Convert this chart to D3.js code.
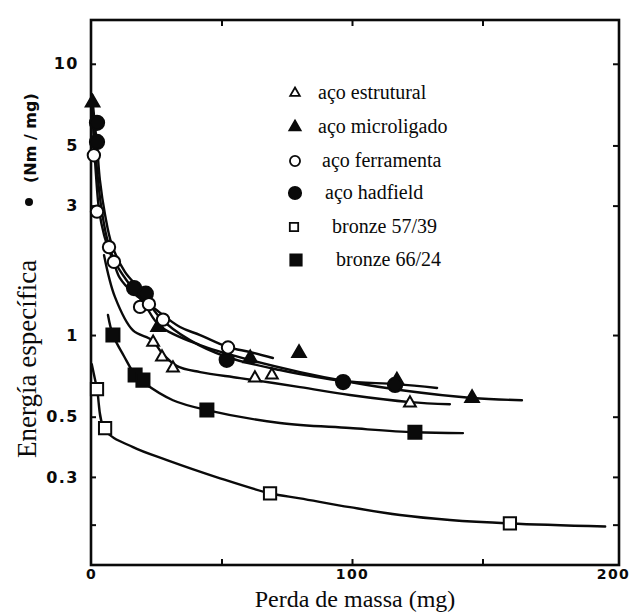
<!DOCTYPE html>
<html><head><meta charset="utf-8">
<script src="https://cdn.jsdelivr.net/npm/d3@7"></script>
<style>body{margin:0;background:#fff}</style>
</head><body>
<svg id="c" width="638" height="614"></svg>
<script>
// ---------- data ----------
const seriesNames = ["aço estrutural", "aço microligado", "aço ferramenta", "aço hadfield", "bronze 57/39", "bronze 66/24"];

// measured points [perda de massa (mg), energia específica (Nm/mg)]
const estruturalPts = [[23.8, 0.94], [27.2, 0.83], [31.4, 0.755], [62.8, 0.694], [69.3, 0.712], [122.2, 0.561]];
const microligadoPts = [[0.6, 7.2], [25.7, 1.07], [61, 0.82], [79.7, 0.858], [117.2, 0.68], [146, 0.586]];
const ferramentaPts = [[1.1, 4.6], [2.3, 2.85], [6.9, 2.11], [8.8, 1.86], [18.8, 1.27], [22.2, 1.30], [27.6, 1.14], [52.5, 0.90]];
const hadfieldPts = [[2.3, 6.06], [2.3, 5.15], [16.5, 1.49], [21, 1.42], [52, 0.81], [96.6, 0.671], [116.5, 0.655]];
const bronze5739Pts = [[2.3, 0.632], [5.4, 0.454], [68.6, 0.261], [160.5, 0.202]];
const bronze6624Pts = [[8.4, 1.0], [16.9, 0.712], [19.9, 0.682], [44.4, 0.529], [124.1, 0.438]];

// fitted curves drawn in the figure
const estruturalFit = [[5.0, 1.97], [9.2, 1.38], [16.1, 1.04], [23.4, 0.958], [27.2, 0.858], [33, 0.768], [41.8, 0.73], [57.1, 0.694], [80.1, 0.643], [99.2, 0.601], [122.2, 0.566], [137.5, 0.556]];
const microligadoFit = [[0.2, 7.37], [1.1, 5.47], [2.3, 4.06], [3.8, 3.02], [6.1, 2.28], [9.2, 1.86], [14.9, 1.53], [20.7, 1.29], [26.4, 1.08], [41.8, 0.918], [60.9, 0.809], [80.1, 0.73], [99.2, 0.671], [118.4, 0.627], [146, 0.586], [165.1, 0.575]];
const ferramentaFit = [[0.4, 7.37], [1.1, 5.24], [1.9, 3.9], [3.1, 2.89], [5.0, 2.34], [6.9, 2.06], [8.8, 1.84], [11.1, 1.62], [16.1, 1.43], [22.6, 1.29], [34.1, 1.07], [41.8, 1.0], [52.5, 0.903], [60.9, 0.866], [69.7, 0.823]];
const hadfieldFit = [[0.4, 7.69], [1.5, 5.96], [2.3, 5.02], [3.4, 3.73], [5.4, 2.77], [8.0, 2.15], [13.0, 1.71], [18.8, 1.47], [26.4, 1.16], [37.9, 0.958], [52.1, 0.83], [72.4, 0.743], [96.6, 0.677], [117.2, 0.659], [132.6, 0.638]];
const bronze5739Fit = [[0.3, 0.78], [2.3, 0.632], [5.4, 0.446], [16.1, 0.386], [29.1, 0.346], [48.3, 0.299], [68.6, 0.261], [80.1, 0.25], [99.2, 0.232], [118.4, 0.217], [137.5, 0.208], [160.5, 0.202], [197, 0.197]];
const bronze6624Fit = [[6.5, 1.185], [8.4, 1.0], [12.6, 0.837], [16.9, 0.712], [19.9, 0.671], [31.4, 0.575], [44.4, 0.529], [72.4, 0.474], [99.2, 0.454], [124.1, 0.438], [142.5, 0.435]];

// axes
const xTickValues = [0, 100, 200];
const xTickLabels = ["0", "100", "200"];
const xMinorTicks = [50, 100, 150];
const yTickValues = [10, 5, 3, 1, 0.5, 0.3];
const yTickLabels = ["10", "5", "3", "1", "0.5", "0.3"];
const yMinorTicks = [10, 5, 3, 1, 0.5, 0.3, 0.2];

// ---------- drawing ----------
const svg = d3.select("#c");
const x = d3.scaleLinear().domain([0, 200]).range([91, 613]);
const y = d3.scaleLog().domain([0.142, 14.5]).range([565, 20]);
const xMax = 202.3;
const L = x(0), R = x(xMax), T = y(14.5), B = y(0.142);

const black = "#0a0a0a";

// frame
svg.append("rect").attr("x", L).attr("y", T).attr("width", R - L).attr("height", B - T)
  .attr("fill", "none").attr("stroke", black).attr("stroke-width", 2.6);

// ticks: left (inward), right (inward), top, bottom
const gL = svg.append("g").attr("transform", `translate(${L},0)`)
  .call(d3.axisRight(y).tickValues(yMinorTicks).tickSize(5).tickFormat(""));
const gR = svg.append("g").attr("transform", `translate(${R},0)`)
  .call(d3.axisLeft(y).tickValues(yMinorTicks).tickSize(6).tickFormat(""));
const gT = svg.append("g").attr("transform", `translate(0,${T})`)
  .call(d3.axisBottom(x).tickValues(xMinorTicks).tickSize(6).tickFormat(""));
const gB = svg.append("g").attr("transform", `translate(0,${B})`)
  .call(d3.axisTop(x).tickValues(xMinorTicks).tickSize(6).tickFormat(""));
[gL, gR, gT, gB].forEach(g => {
  g.select(".domain").remove();
  g.selectAll(".tick line").attr("stroke", black).attr("stroke-width", 2);
});

// y labels
const gYL = svg.append("g").attr("transform", `translate(${L},0)`)
  .call(d3.axisLeft(y).tickValues(yTickValues).tickSize(0).tickPadding(12)
    .tickFormat((d, i) => yTickLabels[i]));
gYL.select(".domain").remove();
gYL.selectAll("text").attr("font-family", "DejaVu Sans").attr("font-weight", "bold")
  .attr("font-size", 16).attr("letter-spacing", 1.5).attr("fill", black);

// x labels
const gXL = svg.append("g").attr("transform", `translate(0,${B})`)
  .call(d3.axisBottom(x).tickValues(xTickValues).tickSize(0).tickPadding(4)
    .tickFormat((d, i) => xTickLabels[i]));
gXL.select(".domain").remove();
gXL.selectAll("text").attr("font-family", "DejaVu Sans").attr("font-weight", "bold")
  .attr("font-size", 14).attr("letter-spacing", 1.5).attr("fill", black);

// axis titles
svg.append("text").attr("x", 355).attr("y", 607).attr("text-anchor", "middle")
  .attr("font-family", "Liberation Serif").attr("font-size", 24).attr("fill", black)
  .text("Perda de massa (mg)");

svg.append("text").attr("transform", "translate(36,458) rotate(-90)")
  .attr("font-family", "Liberation Serif").attr("font-size", 27).attr("fill", black)
  .text("Energía específica");
svg.append("circle").attr("cx", 29).attr("cy", 202).attr("r", 4).attr("fill", black);
svg.append("text").attr("transform", "translate(36,183) rotate(-90)")
  .attr("font-family", "DejaVu Sans").attr("font-weight", "bold").attr("font-size", 16)
  .attr("fill", black).text("(Nm / mg)");

// curves
const line = d3.line().x(d => x(d[0])).y(d => y(d[1])).curve(d3.curveCatmullRom.alpha(0.5));
const fits = [estruturalFit, microligadoFit, ferramentaFit, hadfieldFit, bronze5739Fit, bronze6624Fit];
svg.append("g").selectAll("path").data(fits).join("path")
  .attr("d", line).attr("fill", "none").attr("stroke", black).attr("stroke-width", 2.4)
  .attr("stroke-linejoin", "round").attr("stroke-linecap", "round");

// markers
const styles = [
  {type: d3.symbolTriangle, size: 60, fill: "#fff"},
  {type: d3.symbolTriangle, size: 80, fill: black},
  {type: d3.symbolCircle, size: 120, fill: "#fff"},
  {type: d3.symbolCircle, size: 160, fill: black},
  {type: d3.symbolSquare, size: 150, fill: "#fff"},
  {type: d3.symbolSquare, size: 170, fill: black}
];
const pts = [estruturalPts, microligadoPts, ferramentaPts, hadfieldPts, bronze5739Pts, bronze6624Pts];
const drawOrder = [5, 4, 0, 1, 3, 2];
drawOrder.forEach(i => {
  const s = styles[i];
  svg.append("g").selectAll("path").data(pts[i]).join("path")
    .attr("transform", d => `translate(${x(d[0])},${y(d[1])})`)
    .attr("d", d3.symbol().type(s.type).size(s.size))
    .attr("fill", s.fill).attr("stroke", black).attr("stroke-width", 2);
});

// legend
const legY = [93, 127, 161, 193, 227, 260];
const legMX = [295, 295, 295, 295, 294, 296];
const legTX = [318, 318, 322, 325, 332, 336];
const legSizes = [40, 55, 80, 120, 70, 130];
seriesNames.forEach((name, i) => {
  const s = styles[i];
  svg.append("path").attr("transform", `translate(${legMX[i]},${legY[i]})`)
    .attr("d", d3.symbol().type(s.type).size(legSizes[i]))
    .attr("fill", s.fill).attr("stroke", black).attr("stroke-width", 1.8);
  svg.append("text").attr("x", legTX[i]).attr("y", legY[i] + 6)
    .attr("font-family", "Liberation Serif").attr("font-size", 20).attr("fill", black)
    .text(name);
});
</script>
</body></html>
